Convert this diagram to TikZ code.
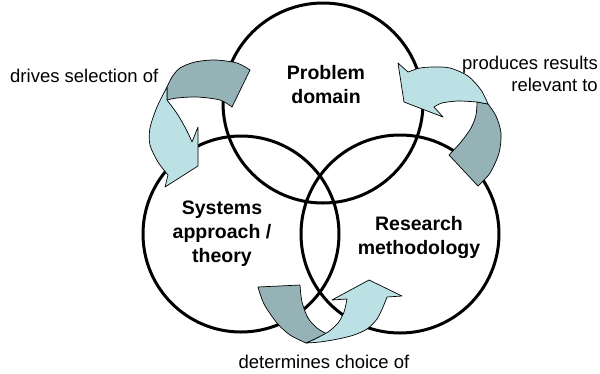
\documentclass[tikz,border=0pt]{standalone}
\usepackage{fontspec}
\setmainfont{Liberation Sans}
\definecolor{ribbondark}{HTML}{95B3B7}
\definecolor{ribbonlight}{HTML}{BBE1E5}
\begin{document}
\begin{tikzpicture}[x=1pt,y=-1pt,
  ring/.style={circle,draw=black,line width=3pt,inner sep=0pt,outer sep=0pt},
  back/.style={fill=ribbondark,draw=black,line width=0.7pt,line join=round},
  front/.style={fill=ribbonlight,draw=black,line width=0.7pt,line join=round},
  note/.style={font=\fontsize{18.5}{22}\selectfont,inner sep=0pt},
  title/.style={font=\fontsize{19.5}{24}\selectfont\bfseries,align=center,inner sep=0pt}]
\useasboundingbox (0,0) rectangle (600,373);

% the three overlapping circles
\node[ring,minimum size=200pt] (problem) at (323,103) {};
\node[ring,minimum size=196pt] (systems) at (241,234) {};
\node[ring,minimum size=198pt] (method) at (400,234) {};

% circle titles
\node[title] (problemtxt) at (326,85) {Problem\\domain};
\node[title] (systemstxt) at (222,234) {Systems\\approach /\\theory};
\node[title] (methodtxt) at (419,237) {Research\\methodology};

% curved ribbon arrow: problem domain -> systems approach
\draw[back] plot[smooth] coordinates {(167,87) (172,77) (180,68) (195,62) (215,60) (237,63) (250,70)}
  -- (232,107)
  -- plot[smooth] coordinates {(232,107) (220,100) (197,97) (177,98) (167,100)} -- cycle;
\draw[front] plot[smooth] coordinates {(167,100) (178,115) (187,131) (192,142)}
  -- (198,127) -- (198,166) -- (165,187) -- (168,175)
  -- plot[smooth] coordinates {(168,175) (158,162) (150,145) (150,128) (157,107) (167,87)} -- cycle;

% curved ribbon arrow: research methodology -> problem domain
\draw[back] (477,102) -- (488,104)
  -- plot[smooth] coordinates {(488,104) (496,116) (501,133) (499,153) (490,173) (478,186)}
  -- (449,155)
  -- plot[smooth] coordinates {(449,155) (461,142) (471,128) (476,115) (477,102)} -- cycle;
\draw[front] (398,63) -- (408,72)
  -- plot[smooth] coordinates {(408,72) (420,68) (434,67) (450,68) (468,76) (481,90) (488,104)}
  -- (477,102)
  -- plot[smooth] coordinates {(477,102) (458,101) (442,103) (434,107)}
  -- (443,117) -- (404,102) -- cycle;

% curved ribbon arrow: systems approach -> research methodology
\draw[back] (258,287) -- (300,285)
  -- plot[smooth] coordinates {(300,285) (302,302) (308,318) (317,328) (327,334)}
  -- (306,343)
  -- plot[smooth] coordinates {(306,343) (290,335) (277,323) (264,304) (258,287)} -- cycle;
\draw[front] plot[smooth] coordinates {(306,343) (320,342) (338,339) (354,335) (367,329) (377,319) (383,307) (387,297)}
  -- (402,296) -- (369,280) -- (332,300) -- (347,299)
  -- plot[smooth] coordinates {(347,299) (344,312) (338,323) (328,332) (313,340)} -- cycle;

% arrow captions
\node[note,anchor=west] (drives) at (10,76) {drives selection of};
\node[note,anchor=east,align=right] (produces) at (598,74) {produces results\\relevant to};
\node[note] (determines) at (324,362) {determines choice of};
\end{tikzpicture}
\end{document}
